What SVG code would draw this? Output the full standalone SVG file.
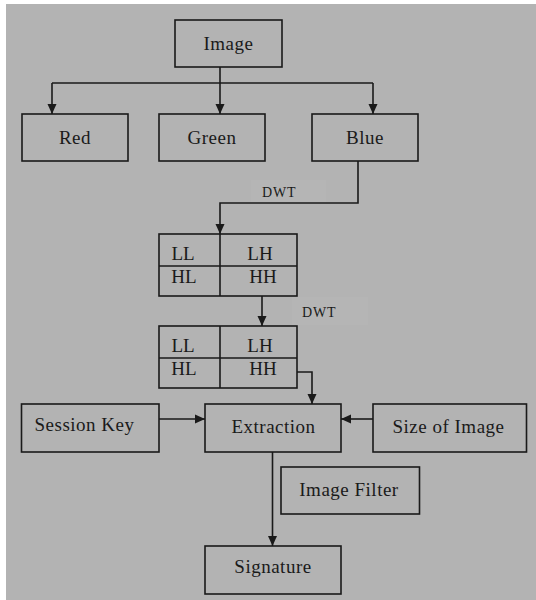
<svg xmlns="http://www.w3.org/2000/svg" width="536" height="600" viewBox="0 0 536 600">
<style>
.box{fill:none;stroke:#1a1a1a;stroke-width:1.6}
.ln{fill:none;stroke:#1a1a1a;stroke-width:1.6}
.t{font-family:"Liberation Serif","Times New Roman",serif;font-size:19px;letter-spacing:0.5px;fill:#1a1a1a;text-anchor:middle}
.s{font-family:"Liberation Serif","Times New Roman",serif;font-size:14px;letter-spacing:0.8px;fill:#1a1a1a}
.c{font-family:"Liberation Serif","Times New Roman",serif;font-size:19px;fill:#1a1a1a;text-anchor:middle}
</style>
<defs>
<marker id="ah" viewBox="0 0 10 10" refX="10" refY="5" markerWidth="10" markerHeight="10" markerUnits="userSpaceOnUse" orient="auto">
<path d="M0,0.5 L10,5 L0,9.5 Z" fill="#1a1a1a"/>
</marker>
</defs>
<rect x="0" y="0" width="536" height="600" fill="#ffffff"/>
<rect x="6" y="4" width="530" height="596" fill="#b3b3b3"/>
<rect x="251" y="180" width="75" height="22" fill="#b5b5b5"/>
<rect x="292" y="297" width="76" height="28" fill="#b5b5b5"/>
<g id="connectors">
<path class="ln" d="M220,67 V83"/>
<path class="ln" d="M52,83 H373"/>
<path class="ln" d="M52,83 V114" marker-end="url(#ah)"/>
<path class="ln" d="M220,83 V114" marker-end="url(#ah)"/>
<path class="ln" d="M373,83 V114" marker-end="url(#ah)"/>
<path class="ln" d="M358,161 V203 H220 V234" marker-end="url(#ah)"/>
<path class="ln" d="M262,296 V326" marker-end="url(#ah)"/>
<path class="ln" d="M297,372 H312 V404" marker-end="url(#ah)"/>
<path class="ln" d="M159,419 H205" marker-end="url(#ah)"/>
<path class="ln" d="M373,419 H341" marker-end="url(#ah)"/>
<path class="ln" d="M272.5,452 V546" marker-end="url(#ah)"/>
</g>
<g id="image"><rect class="box" x="175" y="20" width="107" height="47"/><text class="t" x="228.5" y="49.5">Image</text></g>
<g id="red"><rect class="box" x="22" y="114" width="106" height="47"/><text class="t" x="75" y="143.5">Red</text></g>
<g id="green"><rect class="box" x="159" y="114" width="106" height="47"/><text class="t" x="212" y="143.5">Green</text></g>
<g id="blue"><rect class="box" x="312" y="114" width="106" height="47"/><text class="t" x="365" y="143.5">Blue</text></g>
<g id="dwt1"><text class="s" x="262" y="197">DWT</text></g>
<g id="table1">
<rect class="box" x="159" y="234" width="138" height="62"/>
<path class="ln" d="M159,266 H297 M220,234 V296"/>
<text class="c" x="183" y="260">LL</text>
<text class="c" x="260" y="260">LH</text>
<text class="c" x="184" y="283">HL</text>
<text class="c" x="263" y="283">HH</text>
</g>
<g id="dwt2"><text class="s" x="302" y="317">DWT</text></g>
<g id="table2">
<rect class="box" x="159" y="326" width="138" height="62"/>
<path class="ln" d="M159,358 H297 M220,326 V388"/>
<text class="c" x="183" y="352">LL</text>
<text class="c" x="260" y="352">LH</text>
<text class="c" x="184" y="375">HL</text>
<text class="c" x="263" y="375">HH</text>
</g>
<g id="session-key"><rect class="box" x="21.5" y="404" width="137.5" height="48"/><text class="t" x="84.5" y="431">Session Key</text></g>
<g id="extraction"><rect class="box" x="205" y="404" width="136" height="48"/><text class="t" x="273.5" y="433">Extraction</text></g>
<g id="size-of-image"><rect class="box" x="373" y="404" width="153.5" height="48"/><text class="t" x="448.5" y="433">Size of Image</text></g>
<g id="image-filter"><rect class="box" x="281" y="467" width="138.5" height="47"/><text class="t" x="349" y="495.5">Image Filter</text></g>
<g id="signature"><rect class="box" x="205" y="546" width="136" height="48"/><text class="t" x="273" y="573">Signature</text></g>
</svg>
